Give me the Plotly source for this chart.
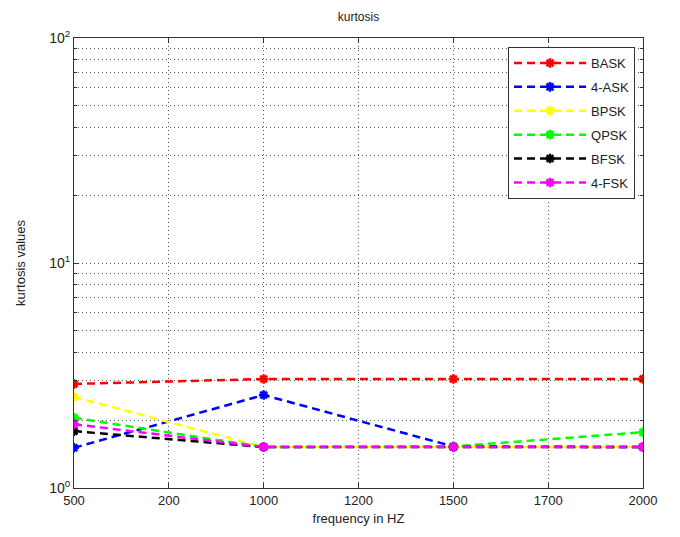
import plotly.graph_objects as go

tick_labels = ['500', '200', '1000', '1200', '1500', '1700', '2000']
freqs = ['500', '1000', '1500', '2000']

bask = [2.90, 3.05, 3.05, 3.05]
ask4 = [1.51, 2.59, 1.53, 1.52]
bpsk = [2.54, 1.52, 1.52, 1.52]
qpsk = [2.05, 1.52, 1.53, 1.77]
bfsk = [1.79, 1.52, 1.52, 1.52]
fsk4 = [1.92, 1.52, 1.52, 1.52]

series = [
    ('BASK', bask, '#ff0000'),
    ('4-ASK', ask4, '#0000ff'),
    ('BPSK', bpsk, '#ffff00'),
    ('QPSK', qpsk, '#00ff00'),
    ('BFSK', bfsk, '#000000'),
    ('4-FSK', fsk4, '#ff00ff'),
]

fig = go.Figure()
for name, vals, col in series:
    fig.add_trace(go.Scatter(
        x=freqs, y=vals, name=name, legendgroup=name, mode='lines+markers',
        line=dict(color=col, width=2.5, dash='8px,5px'),
        marker=dict(symbol='asterisk-open', size=8, color=col, line=dict(color=col, width=2.5)),
    ))

font = dict(family='Liberation Sans, Arial, sans-serif', size=12, color='#222')
minor_vals = [v * d for d in (1, 10) for v in range(2, 10)]
GRID = '#555'
DOT = '1px,3px'

W, H = 672, 529
fig.update_layout(
    width=W, height=H,
    margin=dict(l=66, r=37, t=30, b=49),
    paper_bgcolor='white', plot_bgcolor='white',
    font=font,
    title=dict(text='kurtosis', x=(66 + 635) / 2 / W, xanchor='center', y=1 - 9 / H, yanchor='middle',
               font=dict(size=12, color='#222')),
    xaxis=dict(
        type='category', categoryorder='array', categoryarray=tick_labels,
        range=[0, 6], showline=True, linecolor='#333', linewidth=1, mirror='ticks',
        ticks='inside', ticklen=5, tickcolor='#333',
        showgrid=True, gridcolor=GRID, gridwidth=1, griddash=DOT,
        title=dict(text='frequency in HZ', standoff=7, font=dict(size=13)),
        tickfont=dict(size=13),
        zeroline=False,
    ),
    yaxis=dict(
        type='log', range=[0, 2], showline=True, linecolor='#333', linewidth=1, mirror='ticks',
        ticks='inside', ticklen=5, tickcolor='#333',
        tickvals=[1, 10, 100], ticktext=['10<sup>0</sup>', '10<sup>1</sup>', '10<sup>2</sup>'],
        tickfont=dict(size=14),
        showgrid=True, gridcolor=GRID, gridwidth=1, griddash=DOT,
        minor=dict(tickvals=minor_vals, showgrid=True, gridcolor=GRID, griddash=DOT, gridwidth=1,
                   ticks='inside', ticklen=3, tickcolor='#333'),
        title=dict(text='kurtosis values', standoff=20, font=dict(size=13)),
        zeroline=False,
    ),
    legend=dict(x=0.986, xanchor='right', y=0.98, yanchor='top',
                bordercolor='#333', borderwidth=1, bgcolor='white',
                font=dict(size=13), tracegroupgap=4, itemwidth=72),
    showlegend=True,
)

fig.write_html('out.html')
